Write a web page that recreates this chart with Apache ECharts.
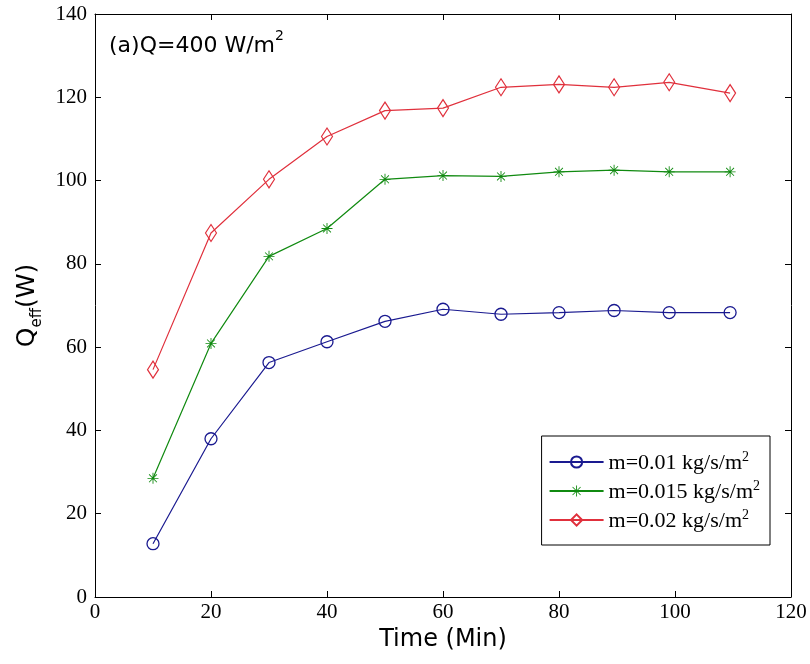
<!DOCTYPE html>
<html>
<head>
<meta charset="utf-8">
<script src="https://cdn.jsdelivr.net/npm/echarts@6/dist/echarts.min.js"></script>
<style>html,body{margin:0;padding:0;background:#fff}#c{width:810px;height:664px}</style>
</head>
<body>
<div id="c"></div>
<script>
// ---- data ----
var timeMin = [10, 20, 30, 40, 50, 60, 70, 80, 89.5, 99, 109.5];
var qeff001 = [12.8, 38.0, 56.3, 61.3, 66.2, 69.1, 67.9, 68.3, 68.8, 68.3, 68.3];
var qeff0015 = [28.5, 60.9, 81.8, 88.5, 100.3, 101.2, 101.0, 102.1, 102.5, 102.1, 102.1];
var qeff002 = [54.6, 87.4, 100.3, 110.6, 116.8, 117.4, 122.4, 123.1, 122.4, 123.6, 121.0];
var seriesNames = ['m=0.01 kg/s/m', 'm=0.015 kg/s/m', 'm=0.02 kg/s/m'];
var xTicks = [0, 20, 40, 60, 80, 100, 120];
var yTicks = [0, 20, 40, 60, 80, 100, 120, 140];

function pairs(xs, ys) { return xs.map(function (x, i) { return [x, ys[i]]; }); }

var BLUE = '#1a1a90', GREEN = '#108a10', RED = '#e0303c';
var asterisk = 'path://M9.2 0H10.8V20H9.2Z M0 9.2H20V10.8H0Z M2.3 3.4L3.4 2.3L17.7 16.6L16.6 17.7Z M16.6 2.3L17.7 3.4L3.4 17.7L2.3 16.6Z';

var chart = echarts.init(document.getElementById('c'));
var axisCommon = {
  type: 'value',
  axisLine: { show: true, onZero: false, lineStyle: { color: '#000', width: 1 } },
  axisTick: { show: true, inside: true, length: 6, lineStyle: { color: '#000' } },
  splitLine: { show: false }
};
function mk(o) { return Object.assign({}, JSON.parse(JSON.stringify(axisCommon)), o); }

chart.setOption({
  animation: false,
  backgroundColor: '#fff',
  grid: { left: 95, right: 19, top: 14, bottom: 67, containLabel: false },
  title: {
    text: '{t|(a)Q=400 W/m}{s|2}',
    left: 104, top: 24,
    textStyle: {
      fontWeight: 'normal',
      rich: {
        t: { fontFamily: 'DejaVu Sans', fontSize: 22, fontWeight: 'normal', color: '#000', lineHeight: 28, verticalAlign: 'bottom' },
        s: { fontFamily: 'DejaVu Sans', fontSize: 14, fontWeight: 'normal', color: '#000', lineHeight: 28, verticalAlign: 'top', padding: [0, 0, 12, 0] }
      }
    }
  },
  legend: {
    right: 40, top: 436,
    orient: 'vertical',
    data: seriesNames,
    backgroundColor: '#fff',
    borderColor: '#000', borderWidth: 1,
    padding: [14, 10, 13, 7],
    itemGap: 5,
    itemWidth: 54, itemHeight: 14,
    formatter: function (n) { return '{t|' + n + '}{s|2}'; },
    textStyle: {
      rich: {
        t: { fontFamily: 'Liberation Serif', fontSize: 22, color: '#000', lineHeight: 24, verticalAlign: 'bottom' },
        s: { fontFamily: 'Liberation Serif', fontSize: 14, color: '#000', lineHeight: 24, verticalAlign: 'top', padding: [0, 0, 10, 0] }
      }
    }
  },
  xAxis: [
    mk({
      min: 0, max: 120, interval: 20, position: 'bottom',
      name: 'Time (Min)', nameLocation: 'middle', nameGap: 24,
      nameTextStyle: { fontFamily: 'DejaVu Sans', fontSize: 24, color: '#000' },
      axisLabel: { fontFamily: 'Liberation Serif', fontSize: 21, color: '#000', margin: 5,
        customValues: xTicks },
      axisTick: { show: true, inside: true, length: 6, lineStyle: { color: '#000' }, customValues: xTicks }
    }),
    mk({
      min: 0, max: 120, interval: 20, position: 'top',
      axisLabel: { show: false }
    })
  ],
  yAxis: [
    mk({
      min: 0, max: 140, interval: 20, position: 'left',
      name: '{q|Q}{s|eff}{q|(W)}', nameLocation: 'middle', nameGap: 40, nameRotate: 90,
      nameTextStyle: {
        rich: {
          q: { fontFamily: 'DejaVu Sans', fontSize: 25, color: '#000', lineHeight: 30, verticalAlign: 'top' },
          s: { fontFamily: 'DejaVu Sans', fontSize: 15, color: '#000', lineHeight: 30, verticalAlign: 'bottom', padding: [10, 0, 0, 0] }
        }
      },
      axisLabel: { fontFamily: 'Liberation Serif', fontSize: 21, color: '#000', margin: 8,
        customValues: yTicks },
      axisTick: { show: true, inside: true, length: 6, lineStyle: { color: '#000' }, customValues: yTicks }
    }),
    mk({
      min: 0, max: 140, interval: 20, position: 'right',
      axisLabel: { show: false }
    })
  ],
  series: [
    {
      name: seriesNames[0], type: 'line', data: pairs(timeMin, qeff001),
      symbol: 'circle', symbolSize: 12,
      lineStyle: { color: BLUE, width: 1.2 },
      itemStyle: { color: 'rgba(255,255,255,0)', borderColor: BLUE, borderWidth: 1.3 }
    },
    {
      name: seriesNames[1], type: 'line', data: pairs(timeMin, qeff0015),
      symbol: asterisk, symbolSize: 11,
      lineStyle: { color: GREEN, width: 1.2 },
      itemStyle: { color: GREEN, borderWidth: 0 }
    },
    {
      name: seriesNames[2], type: 'line', data: pairs(timeMin, qeff002),
      symbol: 'diamond', symbolSize: [11, 17],
      lineStyle: { color: RED, width: 1.2 },
      itemStyle: { color: 'rgba(255,255,255,0)', borderColor: RED, borderWidth: 1.2 }
    }
  ]
});
</script>
</body>
</html>
